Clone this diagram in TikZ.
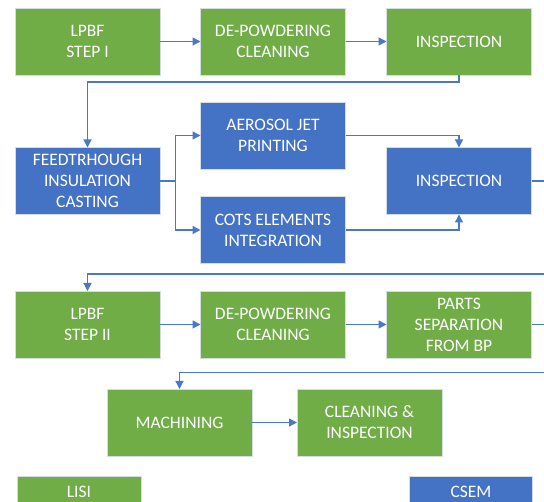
\documentclass[tikz,border=0pt]{standalone}
\usepackage{fontspec}
\setmainfont{Carlito}
\usetikzlibrary{arrows.meta}
\definecolor{ogreen}{HTML}{70AD47}
\definecolor{oblue}{HTML}{4472C4}
\definecolor{oline}{HTML}{4A78C8}
\definecolor{oedge}{HTML}{D6DCE4}
\tikzset{
  box/.style={rectangle, draw=oedge, line width=0.8pt, text=white, align=center,
    minimum width=145pt, minimum height=67pt, inner sep=2pt, outer sep=0pt,
    font=\fontsize{17.5}{21}\selectfont},
  gbox/.style={box, fill=ogreen},
  bbox/.style={box, fill=oblue},
  conn/.style={draw=oline, line width=1.3pt},
  arr/.style={conn, -{Triangle[length=8pt,width=8pt]}}
}
\begin{document}
\begin{tikzpicture}[x=1pt,y=-1pt]
\useasboundingbox (0,0) rectangle (544,502);
\clip (0,0) rectangle (544,502);
% row 1
\node[gbox] (l1) at (87.5,41.5) {LPBF\\STEP I};
\node[gbox] (dp1) at (273,41.5) {DE-POWDERING\\CLEANING};
\node[gbox] (in1) at (459,41.5) {INSPECTION};
% row 2
\node[bbox] (ft) at (87.5,181) {FEEDTRHOUGH\\INSULATION\\CASTING};
\node[bbox] (aj) at (273,135.5) {AEROSOL JET\\PRINTING};
\node[bbox] (cots) at (273,230) {COTS ELEMENTS\\INTEGRATION};
\node[bbox] (in2) at (459,181) {INSPECTION};
% row 3
\node[gbox] (l2) at (87.5,324.5) {LPBF\\STEP II};
\node[gbox] (dp2) at (273,324.5) {DE-POWDERING\\CLEANING};
\node[gbox] (ps) at (459,324.5) {PARTS\\SEPARATION\\FROM BP};
% row 4
\node[gbox] (mach) at (179.5,422.5) {MACHINING};
\node[gbox] (ci) at (369.5,422.5) {CLEANING \&\\INSPECTION};
% legend
\node[gbox, minimum width=124pt, minimum height=31pt] (lisi) at (79,491.5) {LISI};
\node[bbox, minimum width=123pt, minimum height=31pt] (csem) at (471,491.5) {CSEM};
% coordinates
\coordinate (c1) at (87.5,82);
\coordinate (b) at (175.5,181);
\coordinate (e1) at (544,181);
\coordinate (e2) at (544,274);
\coordinate (e3) at (544,324.5);
\coordinate (e4) at (544,372.5);
% connectors
\draw[arr] (l1.east) -- (dp1.west);
\draw[arr] (dp1.east) -- (in1.west);
\draw[arr] (in1.south) |- (c1) -- (ft.north);
\draw[conn] (ft.east) -- (b);
\draw[arr] (b) |- (aj.west);
\draw[arr] (b) |- (cots.west);
\draw[arr] (aj.east) -| (in2.north);
\draw[arr] (cots.east) -| (in2.south);
\draw[conn] (in2.east) -- (e1);
\draw[arr] (e2) -| (l2.north);
\draw[arr] (l2.east) -- (dp2.west);
\draw[arr] (dp2.east) -- (ps.west);
\draw[conn] (ps.east) -- (e3);
\draw[arr] (e4) -| (mach.north);
\draw[arr] (mach.east) -- (ci.west);
\end{tikzpicture}
\end{document}
